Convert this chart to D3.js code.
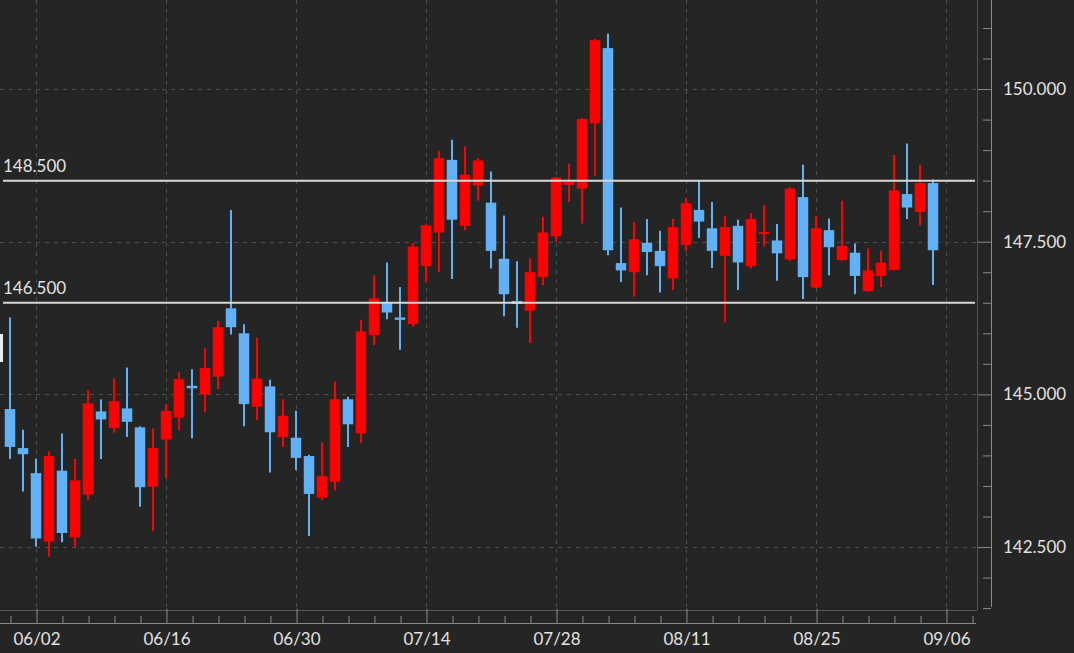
<!DOCTYPE html>
<html>
<head>
<meta charset="utf-8">
<script src="https://cdn.jsdelivr.net/npm/d3@7"></script>
<style>
  html, body { margin: 0; padding: 0; background: #252525; }
  svg { display: block; }
  text { font-family: Lato, "Open Sans", sans-serif; }
</style>
</head>
<body>
<svg id="chart" width="1074" height="653"></svg>
<script>
// ---- DATA ----
const dates = [
  "05/29","05/30",
  "06/02","06/03","06/04","06/05","06/06",
  "06/09","06/10","06/11","06/12","06/13",
  "06/16","06/17","06/18","06/19","06/20",
  "06/23","06/24","06/25","06/26","06/27",
  "06/30","07/01","07/02","07/03","07/04",
  "07/07","07/08","07/09","07/10","07/11",
  "07/14","07/15","07/16","07/17","07/18",
  "07/21","07/22","07/23","07/24","07/25",
  "07/28","07/29","07/30","07/31","08/01",
  "08/04","08/05","08/06","08/07","08/08",
  "08/11","08/12","08/13","08/14","08/15",
  "08/18","08/19","08/20","08/21","08/22",
  "08/25","08/26","08/27","08/28","08/29",
  "09/01","09/02","09/03","09/04","09/05"
];
const futureSlots = ["09/06"];
const open  = [144.76,144.12,143.71,142.59,143.75,142.66,143.36,144.72,144.45,144.77,144.46,143.49,144.26,144.62,145.14,145.00,145.29,146.41,146.00,144.80,145.13,144.30,144.29,143.99,143.31,143.57,144.92,144.36,145.97,146.51,146.26,146.15,147.10,147.65,148.84,147.76,148.42,148.14,147.22,146.53,146.37,146.92,147.59,148.43,148.37,149.44,150.67,147.15,147.00,147.48,147.35,146.90,147.45,148.02,147.72,147.27,147.76,147.10,147.63,147.52,147.21,148.23,146.75,147.69,147.20,147.32,146.69,146.94,147.04,148.28,147.99,148.46];
const high  = [146.26,144.42,143.95,144.07,144.36,143.94,145.07,144.92,145.26,145.44,144.48,144.44,144.85,145.36,145.41,145.75,146.20,148.02,146.15,145.93,145.24,144.92,144.73,144.01,144.21,145.21,144.96,146.22,146.95,147.16,146.76,147.48,147.80,148.99,149.17,149.06,148.87,148.65,147.93,147.18,147.23,147.91,148.56,148.78,149.53,150.82,150.91,148.06,147.82,147.87,147.68,147.87,148.22,148.50,148.15,147.92,147.86,147.97,148.10,147.79,148.39,148.76,147.92,147.88,148.17,147.47,147.39,147.35,148.92,149.11,148.76,148.52];
const low   = [143.94,143.41,142.51,142.34,142.58,142.50,143.27,143.94,144.37,144.30,143.16,142.76,143.63,144.41,144.28,144.71,145.09,145.98,144.48,144.58,143.72,144.14,143.76,142.68,143.27,143.43,144.14,144.20,145.81,146.23,145.73,146.11,146.83,147.01,146.89,147.69,148.17,147.06,146.28,146.09,145.84,146.79,147.50,148.15,147.80,148.58,147.28,146.84,146.60,146.95,146.67,146.71,147.35,147.56,147.07,146.18,146.71,147.06,147.42,146.86,147.19,146.56,146.74,146.95,147.19,146.64,146.68,146.76,147.03,147.87,147.77,146.79];
const close = [144.14,144.02,142.64,143.99,142.73,143.59,144.85,144.59,144.89,144.55,143.48,144.12,144.73,145.25,145.10,145.43,146.10,146.10,144.84,145.26,144.38,144.65,143.96,143.37,143.66,144.92,144.51,146.03,146.57,146.34,146.22,147.42,147.77,148.87,147.86,148.60,148.83,147.35,146.64,146.48,147.00,147.65,148.55,148.48,149.51,150.80,147.36,147.03,147.54,147.33,147.10,147.74,148.13,147.83,147.35,147.74,147.16,147.87,147.66,147.31,148.37,146.92,147.72,147.41,147.43,146.94,147.03,147.16,148.34,148.06,148.46,147.36];
const xTickLabels = ["06/02","06/16","06/30","07/14","07/28","08/11","08/25","09/06"];
const yTickValues = [142.5, 145.0, 147.5, 150.0];
const levelLines = [148.5, 146.5];

// ---- LAYOUT ----
const W = 1074, H = 653;
const plotRight = 977, plotBottom = 610;
const axisX = 991, xAxisY = 623;
const upColor = "#ff0000", downColor = "#62b1f6";
const gridColor = "#4e4e4e", axisColor = "#8a8a8a", textColor = "#e2e2e2";

const svg = d3.select("#chart");
svg.append("rect").attr("width", W).attr("height", H).attr("fill", "#252525");

const slots = dates.concat(futureSlots);
const step = 13;
const x = d3.scaleLinear().domain([-10 / step, (plotRight - 10) / step]).range([0, plotRight]);
const y = d3.scaleLinear().domain([141.469, 151.458]).range([plotBottom, 0]);

const candles = dates.map((d, i) => ({ i, d, o: open[i], h: high[i], l: low[i], c: close[i] }));

// grid
const majorIdx = xTickLabels.map(l => slots.indexOf(l));
const grid = svg.append("g");
grid.selectAll(".vg").data(majorIdx).join("line")
  .attr("x1", d => x(d) + 0.5).attr("x2", d => x(d) + 0.5)
  .attr("y1", 0).attr("y2", plotBottom)
  .attr("stroke", gridColor).attr("stroke-dasharray", "4,5");
grid.selectAll(".hg").data(yTickValues).join("line")
  .attr("x1", 0).attr("x2", plotRight)
  .attr("y1", d => Math.round(y(d)) + 0.5).attr("y2", d => Math.round(y(d)) + 0.5)
  .attr("stroke", gridColor).attr("stroke-dasharray", "4,5");

// plot border
svg.append("line").attr("x1", plotRight + 0.5).attr("x2", plotRight + 0.5).attr("y1", 0).attr("y2", plotBottom)
  .attr("stroke", "#555");
svg.append("line").attr("x1", 0).attr("x2", plotRight).attr("y1", plotBottom + 0.5).attr("y2", plotBottom + 0.5)
  .attr("stroke", "#555");

// candles
const bodyW = 10.5;
const cg = svg.append("g");
cg.selectAll(".wick").data(candles).join("line")
  .attr("x1", d => x(d.i)).attr("x2", d => x(d.i))
  .attr("y1", d => y(d.h)).attr("y2", d => y(d.l))
  .attr("stroke", d => d.c >= d.o ? upColor : downColor)
  .attr("stroke-width", 2);
cg.selectAll(".body").data(candles).join("rect")
  .attr("x", d => x(d.i) - bodyW / 2)
  .attr("width", bodyW)
  .attr("y", d => y(Math.max(d.o, d.c)))
  .attr("height", d => Math.max(2, Math.abs(y(d.o) - y(d.c))))
  .attr("fill", d => d.c >= d.o ? upColor : downColor);

// level lines
const lv = svg.append("g");
lv.selectAll("line").data(levelLines).join("line")
  .attr("x1", 3).attr("x2", plotRight - 2)
  .attr("y1", d => y(d)).attr("y2", d => y(d))
  .attr("stroke", "#d8d8d8").attr("stroke-width", 2);
lv.selectAll("text").data(levelLines).join("text")
  .attr("x", 3).attr("y", d => y(d) - 9)
  .attr("fill", textColor).attr("font-size", 17)
  .text(d => d3.format(".3f")(d));

// left edge marker
svg.append("rect").attr("x", 0).attr("y", 334).attr("width", 3).attr("height", 28).attr("fill", "#eeeeee");

// y axis (right)
const minorY = d3.range(141.5, 151.01, 0.5).filter(v => !yTickValues.includes(v));
const yMinor = svg.append("g").attr("transform", `translate(${axisX},0)`)
  .call(d3.axisRight(y).tickValues(minorY).tickSize(-8).tickSizeOuter(0).tickFormat(""));
yMinor.select(".domain").remove();
yMinor.selectAll("line").attr("stroke", axisColor);
const yMajor = svg.append("g").attr("transform", `translate(${axisX},0)`)
  .call(d3.axisRight(y).tickValues(yTickValues).tickSize(-13).tickSizeOuter(0).tickPadding(12)
    .tickFormat(d3.format(".3f")));
yMajor.select(".domain").remove();
yMajor.selectAll("line").attr("stroke", axisColor);
yMajor.selectAll("text").attr("fill", textColor).attr("font-size", 17)
  .attr("font-family", "Lato, sans-serif");
svg.append("line").attr("x1", axisX + 0.5).attr("x2", axisX + 0.5).attr("y1", 0).attr("y2", 607)
  .attr("stroke", axisColor);

// x axis (bottom)
const minorX = d3.range(0, 75, 2).filter(i => !majorIdx.includes(i));
const xMinor = svg.append("g").attr("transform", `translate(0.5,${xAxisY})`)
  .call(d3.axisBottom(x).tickValues(minorX).tickSize(-7).tickSizeOuter(0).tickFormat(""));
xMinor.select(".domain").remove();
xMinor.selectAll("line").attr("stroke", axisColor);
const xMajor = svg.append("g").attr("transform", `translate(0.5,${xAxisY})`)
  .call(d3.axisBottom(x).tickValues(majorIdx).tickSize(-14).tickSizeOuter(0).tickPadding(10)
    .tickFormat(i => slots[i]));
xMajor.select(".domain").remove();
xMajor.selectAll("line").attr("stroke", axisColor);
xMajor.selectAll("text").attr("fill", textColor).attr("font-size", 17)
  .attr("font-family", "Lato, sans-serif");
svg.append("line").attr("x1", 0).attr("x2", 976).attr("y1", xAxisY + 0.5).attr("y2", xAxisY + 0.5)
  .attr("stroke", axisColor);
</script>
</body>
</html>
